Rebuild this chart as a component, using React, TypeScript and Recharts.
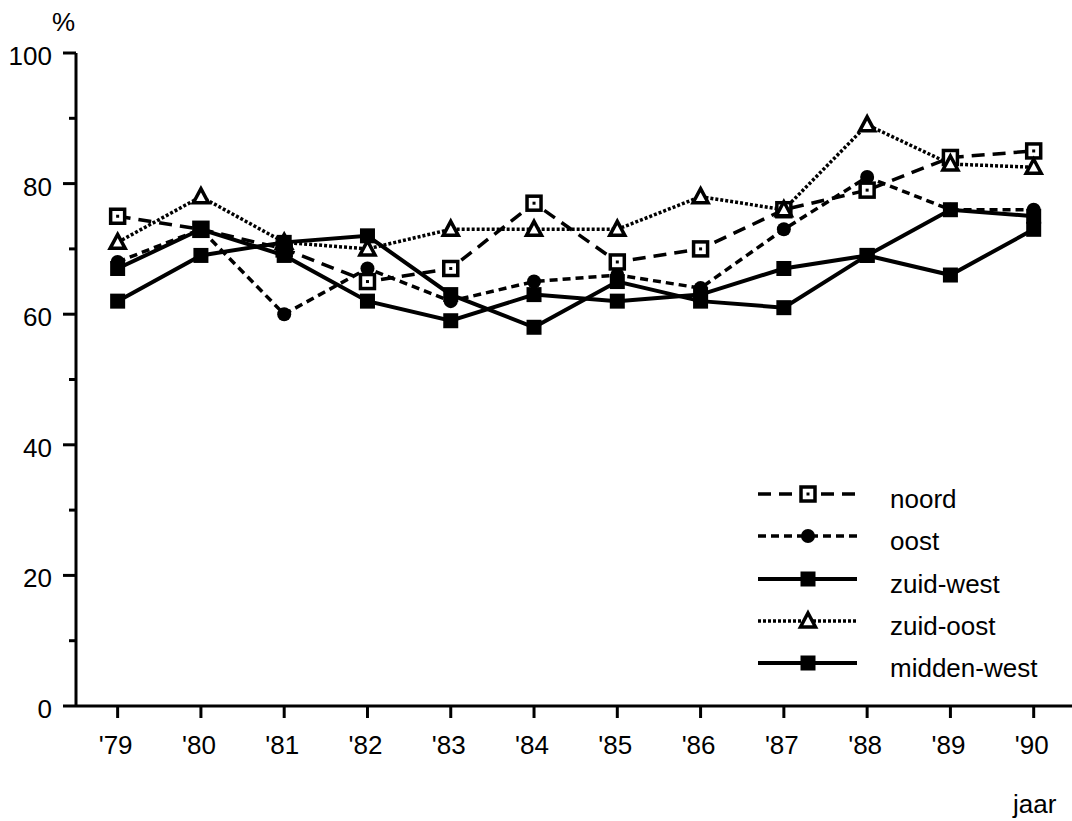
import { Legend, Line, LineChart, XAxis, YAxis } from "recharts";

const years = [1979, 1980, 1981, 1982, 1983, 1984, 1985, 1986, 1987, 1988, 1989, 1990];
const yearLabels = ["'79", "'80", "'81", "'82", "'83", "'84", "'85", "'86", "'87", "'88", "'89", "'90"];
const yTicks = [0, 10, 20, 30, 40, 50, 60, 70, 80, 90, 100];

const noord = [75, 73, 70, 65, 67, 77, 68, 70, 76, 79, 84, 85];
const oost = [68, 73, 60, 67, 62, 65, 66, 64, 73, 81, 76, 76];
const zuidWest = [67, 73, 69, 62, 59, 63, 62, 63, 67, 69, 66, 73];
const zuidOost = [71, 78, 71, 70, 73, 73, 73, 78, 76, 89, 83, 82.5];
const middenWest = [62, 69, 71, 72, 63, 58, 65, 62, 61, 69, 76, 75];

const data = years.map((year, i) => ({
  year,
  noord: noord[i],
  oost: oost[i],
  zuidWest: zuidWest[i],
  zuidOost: zuidOost[i],
  middenWest: middenWest[i],
}));

const FONT = "'Liberation Sans', Arial, Helvetica, sans-serif";

type Marker = "openSquare" | "circle" | "square" | "triangle";

function drawMarker(kind: Marker, cx: number, cy: number, key?: string) {
  if (kind === "openSquare") {
    return (
      <g key={key}>
        <rect x={cx - 7} y={cy - 7} width={14} height={14} fill="#fff" stroke="#000" strokeWidth={3.5} />
        <rect x={cx - 1.5} y={cy - 1.5} width={3} height={3} fill="#000" />
      </g>
    );
  }
  if (kind === "circle") {
    return <circle key={key} cx={cx} cy={cy} r={7} fill="#000" />;
  }
  if (kind === "square") {
    return <rect key={key} x={cx - 7.5} y={cy - 7.5} width={15} height={15} fill="#000" />;
  }
  return (
    <polygon
      key={key}
      points={`${cx},${cy - 8} ${cx + 7.5},${cy + 6} ${cx - 7.5},${cy + 6}`}
      fill="#fff"
      stroke="#000"
      strokeWidth={3.5}
      strokeLinejoin="miter"
    />
  );
}

const series: { key: string; name: string; dash?: string; width: number; marker: Marker }[] = [
  { key: "noord", name: "noord", dash: "13 8", width: 3.5, marker: "openSquare" },
  { key: "oost", name: "oost", dash: "8 5", width: 3.5, marker: "circle" },
  { key: "zuidWest", name: "zuid-west", width: 4, marker: "square" },
  { key: "zuidOost", name: "zuid-oost", dash: "3 2", width: 3.5, marker: "triangle" },
  { key: "middenWest", name: "midden-west", width: 4, marker: "square" },
];

function YTick(props: any) {
  const { x, y, payload } = props;
  const v = payload.value as number;
  const major = v % 20 === 0;
  return (
    <g>
      <line x1={x - (major ? 13 : 7)} x2={x} y1={y} y2={y} stroke="#000" strokeWidth={3} />
      {major && (
        <text x={x - 24} y={y} dy={12} textAnchor="end" fontSize={26} fontFamily={FONT} fill="#000">
          {v}
        </text>
      )}
    </g>
  );
}

function XTick(props: any) {
  const { x, y, payload } = props;
  const idx = years.indexOf(payload.value);
  return (
    <g>
      <line x1={x} x2={x} y1={y} y2={y + 12} stroke="#000" strokeWidth={3} />
      <text x={x - 2} y={y + 48} textAnchor="middle" fontSize={26} fontFamily={FONT} fill="#000">
        {yearLabels[idx]}
      </text>
    </g>
  );
}

function LegendBox() {
  const rowY = [494, 536, 579, 621, 663];
  return (
    <svg width={320} height={210} style={{ position: "absolute", left: 750, top: 470, overflow: "visible" }}>
      {series.map((s, i) => {
        const y = rowY[i] - 470;
        return (
          <g key={s.key}>
            <line x1={8} x2={107} y1={y} y2={y} stroke="#000" strokeWidth={s.width} strokeDasharray={s.dash} />
            {drawMarker(s.marker, 58, y)}
            <text x={140} y={y + 14} fontSize={26} fontFamily={FONT} fill="#000">
              {s.name}
            </text>
          </g>
        );
      })}
    </svg>
  );
}

export default function App() {
  return (
    <div style={{ position: "absolute", left: 0, top: 0, width: 1072, height: 821, background: "#fff" }}>
      <LineChart width={1072} height={821} data={data} margin={{ top: 53, right: 0, bottom: 0, left: 0 }}>
        <XAxis
          dataKey="year"
          type="number"
          domain={[1978.5, 1990.46]}
          ticks={years}
          allowDataOverflow
          height={115}
          tickSize={0}
          tickMargin={0}
          tickLine={false}
          axisLine={{ stroke: "#000", strokeWidth: 3 }}
          tick={<XTick />}
          interval={0}
        />
        <YAxis
          type="number"
          domain={[0, 100]}
          ticks={yTicks}
          width={76}
          tickSize={0}
          tickMargin={0}
          tickLine={false}
          axisLine={{ stroke: "#000", strokeWidth: 3 }}
          tick={<YTick />}
          interval={0}
        />
        {series.map((s) => (
          <Line
            key={s.key}
            dataKey={s.key}
            name={s.name}
            stroke="#000"
            strokeWidth={s.width}
            strokeDasharray={s.dash}
            isAnimationActive={false}
            dot={(p: any) => drawMarker(s.marker, p.cx, p.cy, `${s.key}-${p.index}`)}
            activeDot={false}
          />
        ))}
        <Legend content={() => <LegendBox />} wrapperStyle={{ position: "absolute", left: 0, top: 0 }} />
      </LineChart>
      <div
        style={{
          position: "absolute",
          left: 52,
          top: 8,
          fontFamily: FONT,
          fontSize: 26,
          lineHeight: "28px",
          color: "#000",
        }}
      >
        %
      </div>
      <div
        style={{
          position: "absolute",
          left: 1013,
          top: 790,
          fontFamily: FONT,
          fontSize: 26,
          lineHeight: "28px",
          color: "#000",
        }}
      >
        jaar
      </div>
    </div>
  );
}
